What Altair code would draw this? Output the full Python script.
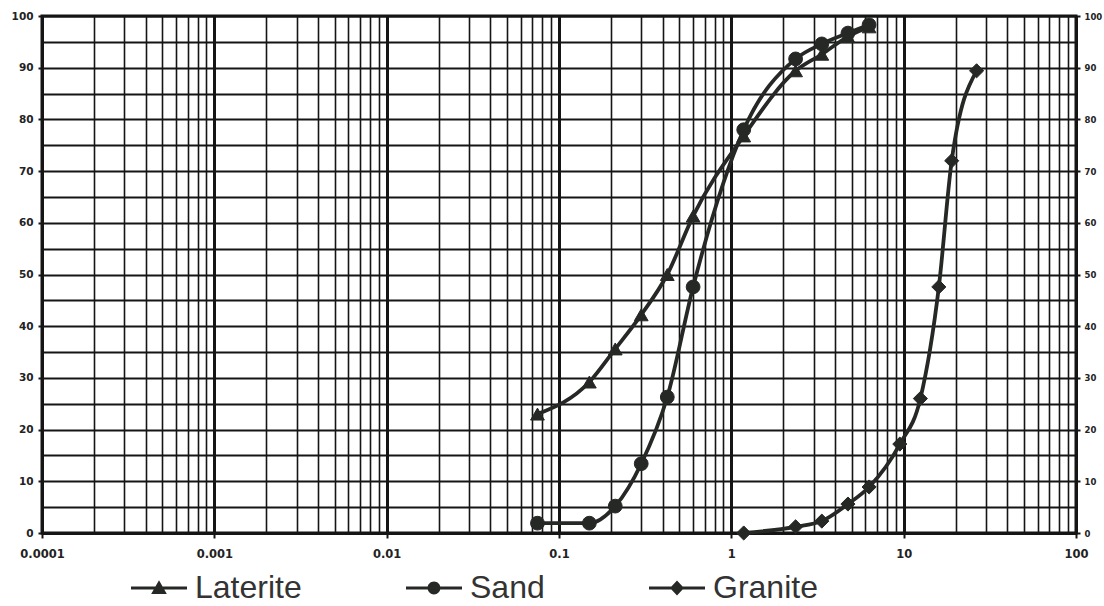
import altair as alt
import pandas as pd

# ---- data ----
series_names = ["Laterite", "Sand", "Granite"]
sieve_fine = [0.075, 0.15, 0.212, 0.3, 0.425, 0.6, 1.18, 2.36, 3.35, 4.75, 6.3]
laterite = [23.0, 29.2, 35.6, 42.2, 50.0, 61.3, 76.8, 89.4, 92.6, 96.0, 97.9]
sand = [1.9, 1.9, 5.2, 13.4, 26.3, 47.6, 78.0, 91.7, 94.6, 96.7, 98.3]
sieve_granite = [1.18, 2.36, 3.35, 4.75, 6.3, 9.5, 12.5, 16.0, 19.0, 26.5]
granite = [0.0, 1.2, 2.3, 5.6, 8.9, 17.2, 26.0, 47.6, 72.0, 89.4]

decades = [0.0001, 0.001, 0.01, 0.1, 1, 10, 100]
y_grid = list(range(0, 101, 5))
y_labels = list(range(0, 101, 10))

rows = []
for s, p in zip(sieve_fine, laterite):
    rows.append({"series": "Laterite", "size": s, "pct": p})
for s, p in zip(sieve_fine, sand):
    rows.append({"series": "Sand", "size": s, "pct": p})
for s, p in zip(sieve_granite, granite):
    rows.append({"series": "Granite", "size": s, "pct": p})
df = pd.DataFrame(rows)

x_grid = [d * k for d in decades[:-1] for k in range(1, 10)] + [decades[-1]]

INK = "#262826"
GRID = "#151515"
is_decade = "abs(log(datum.value)/LN10 - round(log(datum.value)/LN10)) < 0.001"

x_scale = alt.Scale(type="log", domain=[decades[0], decades[-1]], nice=False)
y_scale = alt.Scale(domain=[0, 100], nice=False, zero=True)

x_axis = alt.Axis(
    values=x_grid, format=".4~f",
    labelExpr=f"({is_decade}) ? datum.label : ''",
    grid=True, gridColor=GRID,
    gridWidth={"condition": {"test": is_decade, "value": 3}, "value": 1.6},
    tickOpacity={"condition": {"test": is_decade, "value": 1}, "value": 0},
    tickSize=5, tickColor=GRID, tickWidth=2,
    domainColor=GRID, domainWidth=3,
    labelFont="DejaVu Sans", labelFontWeight="bold", labelFontSize=11.5,
    labelColor="#222", labelPadding=10, labelFlush=False, labelOverlap=False,
    title=None,
)
y_axis_left = alt.Axis(
    values=y_grid,
    labelExpr="datum.value % 10 == 0 ? datum.label : ''",
    grid=True, gridColor=GRID, gridWidth=1.9,
    tickOpacity={"condition": {"test": "datum.value % 10 == 0", "value": 1}, "value": 0},
    tickSize=4, tickColor=GRID, tickWidth=2,
    domainColor=GRID, domainWidth=3,
    labelFont="DejaVu Sans", labelFontWeight="bold", labelFontSize=10.5,
    labelColor="#222", labelPadding=5, labelOverlap=False, labelFlush=False,
    title=None,
)
y_axis_right = alt.Axis(
    orient="right", values=y_labels, grid=False,
    tickSize=4, tickColor=GRID, tickWidth=2,
    domainColor=GRID, domainWidth=3,
    labelFont="DejaVu Sans", labelFontWeight="bold", labelFontSize=8.5,
    labelColor="#222", labelPadding=4, labelOverlap=False, labelFlush=False,
    title=None,
)

base = alt.Chart(df)

lines = base.mark_line(color=INK, strokeWidth=3.8, interpolate="monotone").encode(
    x=alt.X("size:Q", scale=x_scale, axis=x_axis),
    y=alt.Y("pct:Q", scale=y_scale, axis=y_axis_left),
    detail="series:N",
    order="size:Q",
)

marker_shapes = {"Laterite": "triangle-up", "Sand": "circle", "Granite": "diamond"}
marker_sizes = {"Laterite": 190, "Sand": 190, "Granite": 200}
marker_layers = []
for name in series_names:
    marker_layers.append(
        base.transform_filter(alt.datum.series == name)
        .mark_point(shape=marker_shapes[name], filled=True, color=INK, opacity=1,
                    size=marker_sizes[name], stroke=INK, strokeWidth=1)
        .encode(
            x=alt.X("size:Q", scale=x_scale, axis=x_axis),
            y=alt.Y("pct:Q", scale=y_scale, axis=None),
        )
    )

# legend symbols: a short line with the series marker on it
legend_paths = [
    "M-1,-0.05H1V0.05H-1ZM0,-0.28L0.28,0.21L-0.28,0.21Z",
    "M-1,-0.05H1V0.05H-1ZM-0.23,0A0.23,0.23,0,1,1,0.23,0A0.23,0.23,0,1,1,-0.23,0Z",
    "M-1,-0.05H1V0.05H-1ZM0,-0.27L0.25,0L0,0.27L-0.25,0Z",
]

legend_layer = base.mark_point(opacity=0, filled=True, color=INK).encode(
    x=alt.X("size:Q", scale=x_scale, axis=x_axis),
    y=alt.Y("pct:Q", scale=y_scale, axis=y_axis_right),
    shape=alt.Shape(
        "series:N",
        scale=alt.Scale(domain=series_names, range=legend_paths),
        legend=alt.Legend(
            title=None, orient="none", legendX=89, legendY=544,
            direction="horizontal", symbolSize=3136,
            labelFont="Liberation Sans", labelFontSize=32, labelColor="#333",
            labelOffset=8, columnPadding=104, padding=0, labelLimit=400,
            symbolStrokeWidth=0, symbolFillColor=INK, symbolStrokeColor=INK,
            symbolOpacity=1,
        ),
    ),
)

chart = (
    alt.layer(lines, *marker_layers, legend_layer)
    .resolve_axis(y="independent")
    .properties(
        width=1034, height=517,
        padding={"left": 42, "top": 16, "right": 28, "bottom": 73},
        autosize=alt.AutoSizeParams(type="none"),
        background="white",
    )
    .configure_view(stroke=GRID, strokeWidth=3)
)

chart.save("out.html", embed_options={"renderer": "svg", "actions": False})
